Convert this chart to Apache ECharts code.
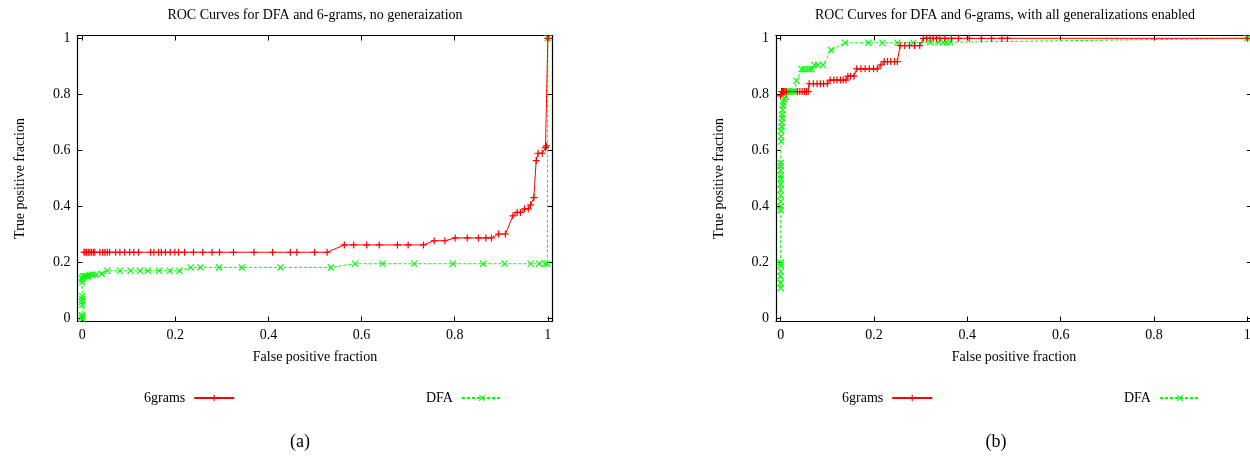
<!DOCTYPE html>
<html><head><meta charset="utf-8">
<script src="https://cdn.jsdelivr.net/npm/echarts@6/dist/echarts.min.js"></script>
<style>html,body{margin:0;padding:0;background:#fff}#c{width:1250px;height:458px}</style>
</head><body><div id="c"></div>
<script>
// ---------- text ----------
const titles = ['ROC Curves for DFA and 6-grams, no generaization',
                'ROC Curves for DFA and 6-grams, with all generalizations enabled'];
const captions = ['(a)', '(b)'];
const xName = 'False positive fraction';
const yName = 'True positive fraction';
const seriesNames = ['6grams', 'DFA'];
const tickValues = [0, 0.2, 0.4, 0.6, 0.8, 1];
const tickLabels = ['0', '0.2', '0.4', '0.6', '0.8', '1'];

// ---------- chart (a): no generalization ----------
const a6gX = [0.004, 0.006, 0.009, 0.013, 0.0165, 0.020, 0.024, 0.027, 0.038, 0.044, 0.049, 0.054, 0.059,
  0.072, 0.081, 0.091, 0.102, 0.111, 0.121, 0.147, 0.154, 0.164, 0.170, 0.179, 0.189, 0.199, 0.207, 0.220,
  0.239, 0.259, 0.279, 0.295, 0.325, 0.369, 0.409, 0.447, 0.461, 0.499, 0.526,
  0.563, 0.583, 0.611, 0.638, 0.677, 0.700, 0.733,
  0.756, 0.779, 0.801, 0.827, 0.851, 0.867, 0.879, 0.894, 0.909,
  0.925, 0.934, 0.941, 0.950, 0.958, 0.963, 0.970, 0.975, 0.979, 0.988, 0.995, 0.997, 1.0];
const a6gY = [0.237, 0.237, 0.237, 0.237, 0.237, 0.237, 0.237, 0.237, 0.237, 0.237, 0.237, 0.237, 0.237,
  0.237, 0.237, 0.237, 0.237, 0.237, 0.237, 0.237, 0.237, 0.237, 0.237, 0.237, 0.237, 0.237, 0.237, 0.237,
  0.237, 0.237, 0.237, 0.237, 0.237, 0.237, 0.237, 0.237, 0.237, 0.237, 0.237,
  0.263, 0.263, 0.263, 0.263, 0.263, 0.263, 0.263,
  0.278, 0.278, 0.288, 0.288, 0.288, 0.288, 0.288, 0.302, 0.302,
  0.367, 0.379, 0.379, 0.392, 0.392, 0.406, 0.432, 0.564, 0.590, 0.590, 0.610, 0.616, 1.0];

const aDfaX = [0, 0, 0, 0, 0, 0, 0, 0, 0, 0, 0.002, 0.006, 0.010, 0.013, 0.016, 0.022, 0.029, 0.042, 0.054,
  0.081, 0.104, 0.124, 0.141, 0.165, 0.188, 0.209,
  0.233, 0.254, 0.294, 0.343, 0.426, 0.534,
  0.586, 0.645, 0.713, 0.796, 0.861, 0.907, 0.963, 0.981, 0.994, 0.999, 1.0];
const aDfaY = [0, 0.006, 0.012, 0.050, 0.060, 0.070, 0.080, 0.130, 0.140, 0.145, 0.151, 0.151, 0.151, 0.151, 0.157, 0.157, 0.157, 0.160, 0.171,
  0.171, 0.171, 0.171, 0.171, 0.171, 0.171, 0.171,
  0.183, 0.183, 0.183, 0.183, 0.183, 0.183,
  0.196, 0.196, 0.196, 0.196, 0.196, 0.196, 0.196, 0.196, 0.196, 0.196, 1.0];

// ---------- chart (b): all generalizations enabled ----------
const b6gX = [0, 0.002, 0.004, 0.006, 0.009, 0.012, 0.036, 0.041, 0.046, 0.051, 0.055, 0.059,
  0.061, 0.070, 0.078, 0.085, 0.092, 0.100,
  0.106, 0.114, 0.121, 0.128, 0.134, 0.140,
  0.144, 0.150, 0.157,
  0.163, 0.172, 0.181, 0.190, 0.199, 0.207,
  0.215, 0.222, 0.229, 0.236, 0.244, 0.250,
  0.256, 0.266, 0.276, 0.287, 0.298,
  0.306, 0.313, 0.320, 0.327, 0.334, 0.341, 0.352, 0.366, 0.381, 0.404, 0.430, 0.452, 0.474, 0.486, 1.0];
const b6gY = [0.795, 0.81, 0.81, 0.81, 0.81, 0.81, 0.81, 0.81, 0.81, 0.81, 0.81, 0.81,
  0.838, 0.838, 0.838, 0.838, 0.838, 0.838,
  0.851, 0.851, 0.851, 0.851, 0.851, 0.851,
  0.865, 0.865, 0.865,
  0.891, 0.891, 0.891, 0.891, 0.891, 0.891,
  0.905, 0.917, 0.917, 0.917, 0.917, 0.917,
  0.974, 0.974, 0.974, 0.974, 0.974,
  1, 1, 1, 1, 1, 1, 1, 1, 1, 1, 1, 1, 1, 1, 1];

const bDfaX = [0, 0, 0, 0, 0, 0, 0, 0, 0, 0, 0, 0, 0, 0, 0, 0, 0,
  0.001, 0.001, 0.001, 0.002, 0.002, 0.003, 0.003, 0.004, 0.005, 0.006, 0.008, 0.011,
  0.014, 0.018, 0.022, 0.026, 0.030, 0.034,
  0.045, 0.052, 0.059, 0.066, 0.072, 0.080, 0.091, 0.108, 0.138,
  0.188, 0.218, 0.250, 0.284, 0.320, 0.338, 0.349, 0.356, 0.363, 1.0];
const bDfaY = [0.109, 0.127, 0.151, 0.169, 0.192, 0.200, 0.388, 0.400, 0.418, 0.440, 0.460, 0.480, 0.500, 0.510, 0.530, 0.545, 0.555,
  0.632, 0.650, 0.670, 0.685, 0.700, 0.715, 0.727, 0.745, 0.760, 0.771, 0.783, 0.792,
  0.810, 0.810, 0.810, 0.810, 0.810, 0.849,
  0.890, 0.890, 0.890, 0.890, 0.905, 0.905, 0.905, 0.958, 0.984,
  0.984, 0.984, 0.984, 0.984, 0.986, 0.986, 0.986, 0.986, 0.986, 1.0];

// ---------- build ----------
const zip = (xs, ys) => xs.map((x, i) => [x, ys[i]]);
const FONT = 'Liberation Serif';
const RED = '#ff0000', GREEN = '#00ff00';
const plusPath = 'path://M2.9,0H4.1V2.9H7V4.1H4.1V7H2.9V4.1H0V2.9H2.9Z';
const crossPath = 'path://M0,0.8L0.8,0L7,6.2L6.2,7ZM6.2,0L7,0.8L0.8,7L0,6.2Z';
const fmt = v => { const i = tickValues.findIndex(t => Math.abs(t - v) < 1e-9); return i >= 0 ? tickLabels[i] : ''; };

const grids = [
  { left: 77.5, top: 35.5, width: 475, height: 286, containLabel: false, outerBoundsMode: 'none' },
  { left: 776, top: 35.5, width: 476, height: 286, containLabel: false, outerBoundsMode: 'none' }
];
const lineCommon = { show: true, onZero: false, lineStyle: { color: '#000', width: 1.2 } };
const tickCommon = { show: true, inside: true, length: 5, customValues: tickValues, lineStyle: { color: '#000', width: 1 } };
const labelCommon = { fontFamily: FONT, fontSize: 14, color: '#000', customValues: tickValues, formatter: fmt };

const xAxes = [], yAxes = [];
grids.forEach((g, gi) => {
  xAxes.push({ type: 'value', gridIndex: gi, position: 'bottom', min: -0.01, max: 1.01,
    axisLine: lineCommon, axisTick: tickCommon, splitLine: { show: false },
    axisLabel: Object.assign({ margin: 7 }, labelCommon),
    name: xName, nameLocation: 'middle', nameGap: 29,
    nameTextStyle: { fontFamily: FONT, fontSize: 14, color: '#000' } });
  xAxes.push({ type: 'value', gridIndex: gi, position: 'top', min: -0.01, max: 1.01,
    axisLine: lineCommon, axisTick: tickCommon, splitLine: { show: false }, axisLabel: { show: false } });
  yAxes.push({ type: 'value', gridIndex: gi, position: 'left', min: -0.01, max: 1.01,
    axisLine: lineCommon, axisTick: tickCommon, splitLine: { show: false },
    axisLabel: Object.assign({ margin: 7 }, labelCommon),
    name: yName, nameLocation: 'middle', nameGap: 50,
    nameTextStyle: { fontFamily: FONT, fontSize: 14, color: '#000' } });
  yAxes.push({ type: 'value', gridIndex: gi, position: 'right', min: -0.01, max: 1.01,
    axisLine: lineCommon, axisTick: tickCommon, splitLine: { show: false }, axisLabel: { show: false } });
});

function mk(name, data, gi) {
  const isRed = name === seriesNames[0];
  return {
    type: 'line', name, xAxisIndex: gi * 2, yAxisIndex: gi * 2, data,
    symbol: isRed ? plusPath : crossPath, symbolSize: 7, showAllSymbol: true,
    itemStyle: { color: isRed ? RED : GREEN },
    lineStyle: { color: isRed ? RED : GREEN, width: 1, type: isRed ? 'solid' : [3, 2] },
    animation: false, z: isRed ? 3 : 2
  };
}
const series = [
  mk(seriesNames[0], zip(a6gX, a6gY), 0),
  mk(seriesNames[1], zip(aDfaX, aDfaY), 0),
  mk(seriesNames[0], zip(b6gX, b6gY), 1),
  mk(seriesNames[1], zip(bDfaX, bDfaY), 1)
];

const legendBase = { orient: 'horizontal', align: 'right', itemWidth: 40, itemHeight: 8, top: 386,
  textStyle: { fontFamily: FONT, fontSize: 14, color: '#000', padding: [0, 4, 0, 0] }, selectedMode: false };
const legends = [
  Object.assign({ data: [seriesNames[0]], left: 139 }, legendBase),
  Object.assign({ data: [seriesNames[1]], left: 421 }, legendBase),
  Object.assign({ data: [seriesNames[0]], left: 837 }, legendBase),
  Object.assign({ data: [seriesNames[1]], left: 1119 }, legendBase)
];

const txt = (text, x, y, size) => ({ type: 'text', x, y,
  style: { text, font: size + 'px "' + FONT + '"', fill: '#000', textAlign: 'center', textVerticalAlign: 'middle' } });
const graphic = [
  txt(titles[0], 315, 15, 14), txt(titles[1], 1005, 15, 14),
  txt(captions[0], 300, 442, 18), txt(captions[1], 996, 442, 18)
];

const chart = echarts.init(document.getElementById('c'), null, { renderer: 'canvas' });
chart.setOption({ animation: false, backgroundColor: '#fff', grid: grids, xAxis: xAxes, yAxis: yAxes,
  series, legend: legends, graphic });
</script></body></html>
